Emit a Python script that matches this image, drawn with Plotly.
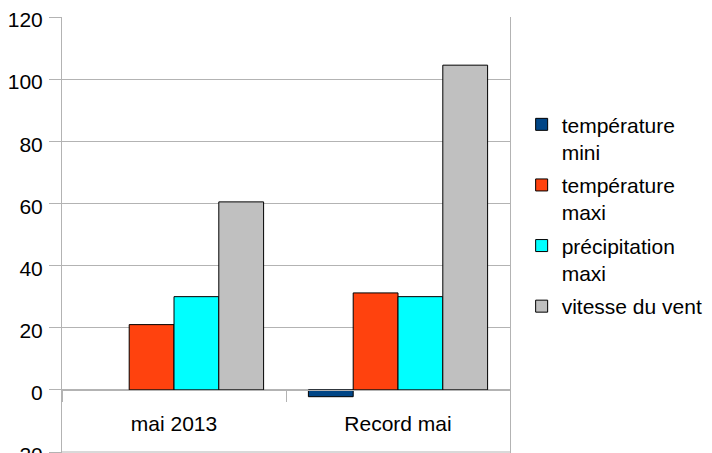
import plotly.graph_objects as go

categories = ["mai 2013", "Record mai"]
series_names = ["température<br>mini", "température<br>maxi", "précipitation<br>maxi", "vitesse du vent"]
temp_mini = [None, -2.2]
temp_maxi = [21, 31.2]
precip_maxi = [30, 30]
vent = [60.5, 104.5]
colors = ["#004586", "#ff420e", "#00ffff", "#c0c0c0"]
y_ticks = [-20, 0, 20, 40, 60, 80, 100, 120]

values = [temp_mini, temp_maxi, precip_maxi, vent]

fig = go.Figure()
for i, (name, vals, col) in enumerate(zip(series_names, values, colors)):
    fig.add_trace(go.Bar(
        x=categories, y=vals, name=name, legendgroup=f"g{i}",
        marker=dict(color=col, line=dict(color="#000000", width=1)),
    ))

GRID = "#b3b3b3"
# bottom gridline (plotly culls the edge gridline)
fig.add_shape(type="line", xref="paper", x0=0, x1=1, yref="y",
              y0=y_ticks[0], y1=y_ticks[0], line=dict(color=GRID, width=1),
              layer="below")

FONT = "Liberation Sans, Arial, sans-serif"
Y_MIN, Y_MAX = -20.32, 120
fig.update_layout(
    width=712, height=453,
    margin=dict(l=62, r=202, t=17, b=0, autoexpand=False),
    paper_bgcolor="white", plot_bgcolor="white",
    barmode="group", bargap=0.2, bargroupgap=0,
    font=dict(family=FONT, size=21, color="#000000"),
    showlegend=True,
    legend=dict(
        x=1.026, y=0.80, xanchor="left", yanchor="top",
        font=dict(family=FONT, size=21, color="#000000"),
        valign="top", tracegroupgap=3, itemwidth=30,
        bgcolor="rgba(0,0,0,0)",
    ),
    xaxis=dict(
        anchor="free", position=(0 - Y_MIN) / (Y_MAX - Y_MIN), automargin=False,
        showline=True, linecolor=GRID, linewidth=1,
        showgrid=False, zeroline=False,
        ticks="outside", tickson="boundaries", ticklen=11,
        tickcolor=GRID, tickwidth=1, ticklabelstandoff=15,
        tickfont=dict(family=FONT, size=21, color="#000000"),
    ),
    yaxis=dict(
        range=[Y_MIN, Y_MAX], tickvals=y_ticks, automargin=False,
        ticklabeloverflow="allow", ticklabelshift=3, ticklabelstandoff=2,
        showline=True, mirror=True, linecolor=GRID, linewidth=1,
        showgrid=True, gridcolor=GRID, gridwidth=1,
        zeroline=False,
        ticks="outside", ticklen=12, tickcolor=GRID, tickwidth=1,
        tickfont=dict(family=FONT, size=21, color="#000000"),
    ),
)

fig.write_html("out.html", config={"displayModeBar": False},
               post_script="document.body.style.margin='0px';")
